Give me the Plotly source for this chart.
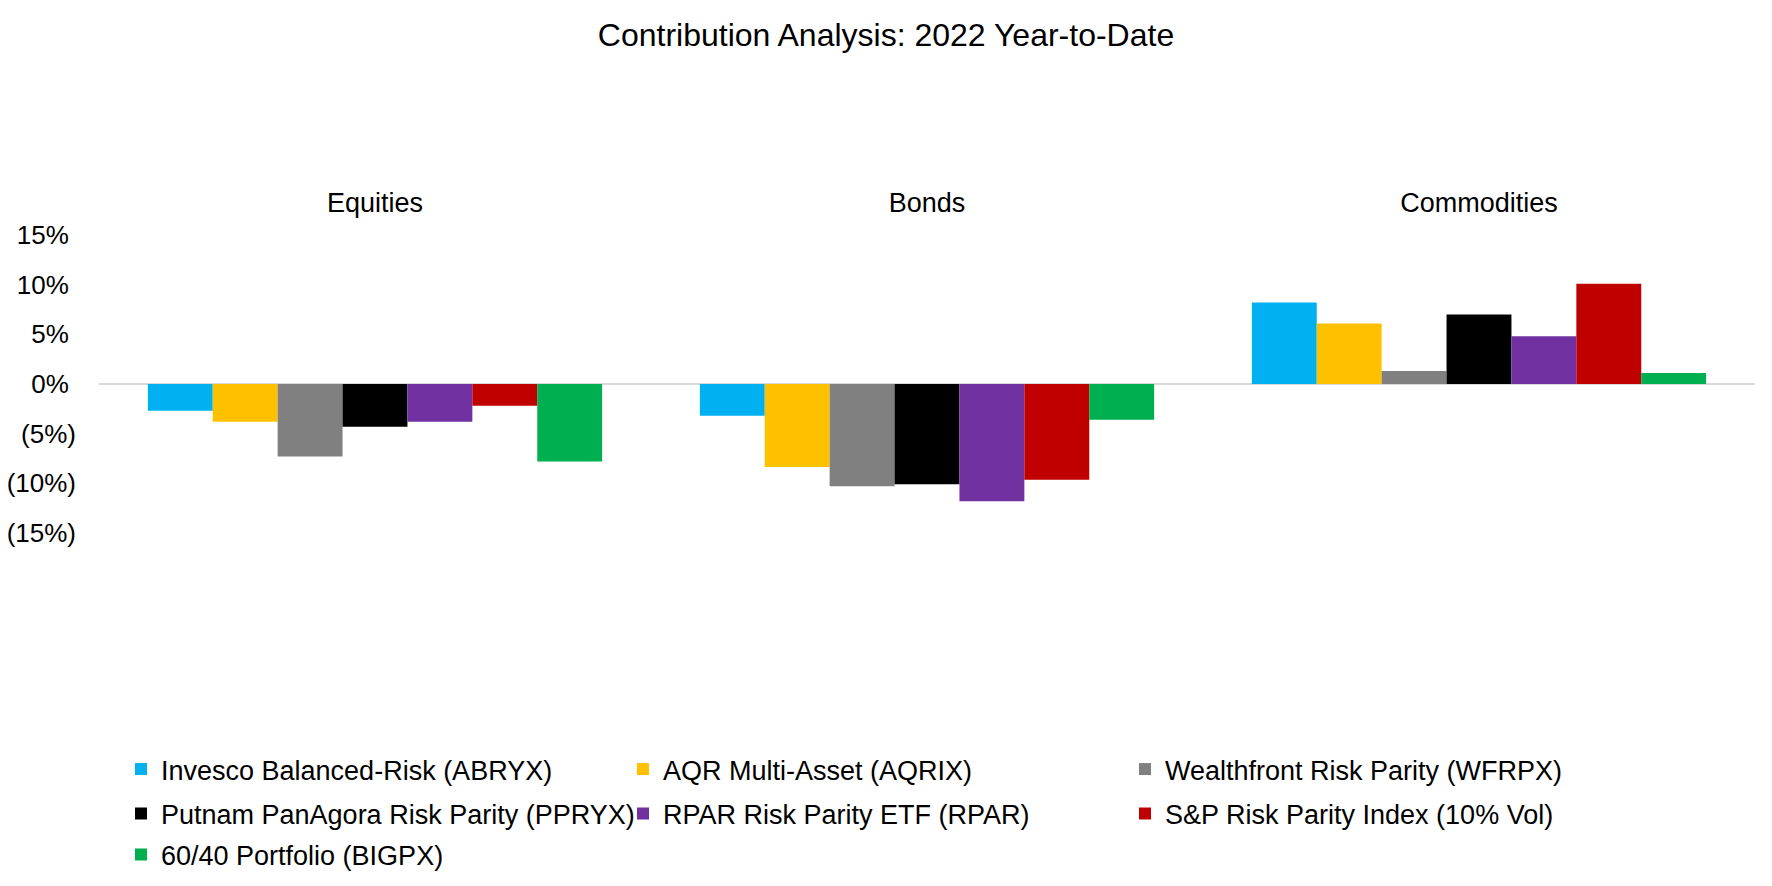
import plotly.graph_objects as go

categories = ["Equities", "Bonds", "Commodities"]
series_names = [
    "Invesco Balanced-Risk (ABRYX)",
    "AQR Multi-Asset (AQRIX)",
    "Wealthfront Risk Parity (WFRPX)",
    "Putnam PanAgora Risk Parity (PPRYX)",
    "RPAR Risk Parity ETF (RPAR)",
    "S&P Risk Parity Index (10% Vol)",
    "60/40 Portfolio (BIGPX)",
]
invesco = [-0.027, -0.032, 0.082]
aqr = [-0.038, -0.0835, 0.061]
wealthfront = [-0.073, -0.103, 0.013]
putnam = [-0.043, -0.101, 0.070]
rpar = [-0.038, -0.118, 0.048]
sp_rp = [-0.022, -0.0965, 0.101]
sixty_forty = [-0.078, -0.036, 0.011]
series_values = [invesco, aqr, wealthfront, putnam, rpar, sp_rp, sixty_forty]
colors = ["#00B0F0", "#FFC000", "#808080", "#000000", "#7030A0", "#C00000", "#00B050"]
legend_rows = ["legend", "legend", "legend", "legend2", "legend2", "legend2", "legend3"]

tick_vals = [0.15, 0.10, 0.05, 0.0, -0.05, -0.10, -0.15]
tick_text = ["15%\u00a0", "10%\u00a0", "5%\u00a0", "0%\u00a0", "(5%)", "(10%)", "(15%)"]

W, H = 1772, 886
FONT = "Liberation Sans, Arial, sans-serif"

fig = go.Figure()
for name, vals, col, lg in zip(series_names, series_values, colors, legend_rows):
    fig.add_trace(go.Bar(x=categories, y=vals, name=name, legend=lg,
                         marker=dict(color=col, line=dict(width=0))))

def legend_row(top):
    return dict(orientation="h", x=121 / W, xanchor="left", y=1 - top / H, yanchor="top",
                entrywidth=457, entrywidthmode="pixels", font=dict(size=27, family=FONT, color="#000"),
                traceorder="normal", bgcolor="rgba(0,0,0,0)")

fig.update_layout(
    width=W, height=H,
    margin=dict(l=0, r=0, t=0, b=0),
    paper_bgcolor="white", plot_bgcolor="white",
    barmode="group", bargap=0.177, bargroupgap=0,
    font=dict(family=FONT, color="#000000", size=26),
    title=dict(text="Contribution Analysis: 2022 Year-to-Date", x=0.5, xanchor="center",
               y=1 - 35 / H, yanchor="middle", font=dict(size=32, family=FONT, color="#000")),
    xaxis=dict(domain=[99 / W, 1755 / W], side="top", showline=False, showgrid=False,
               ticks="", automargin=False, tickfont=dict(size=27), anchor="y",
               ticklabelstandoff=17),
    yaxis=dict(domain=[1 - 533 / H, 1 - 235 / H], range=[-0.15, 0.15], tickvals=tick_vals,
               ticktext=tick_text, showgrid=False, zeroline=True, zerolinecolor="#D9D9D9",
               zerolinewidth=1.5, showline=False, ticks="", automargin=False,
               tickfont=dict(size=26), ticklabelstandoff=22),
    legend=legend_row(745),
    legend2=legend_row(789.5),
    legend3=legend_row(830.5),
    showlegend=True,
)

fig.write_html("out.html")
